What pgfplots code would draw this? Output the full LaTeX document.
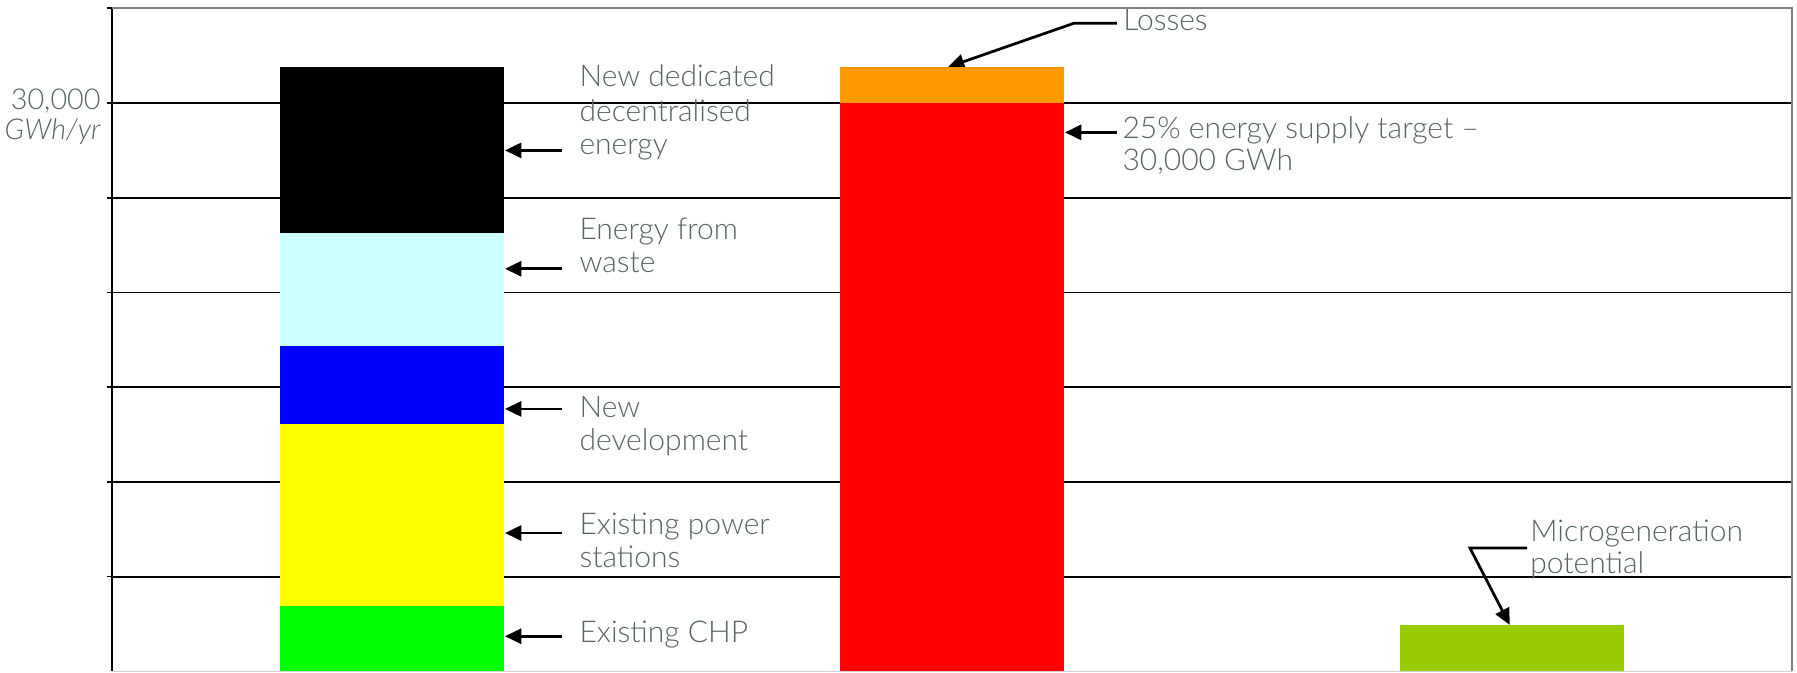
\documentclass[border=0pt]{standalone}
\usepackage{fontspec}
\IfFontExistsTF{Lato Light}{\setmainfont{Lato Light}}{\setmainfont{Lato}}
\usepackage{pgfplots}
\pgfplotsset{compat=1.18}
\usetikzlibrary{arrows.meta}

\definecolor{txt}{RGB}{86,102,92}
\definecolor{chp}{RGB}{0,255,0}
\definecolor{power}{RGB}{255,255,0}
\definecolor{newdev}{RGB}{0,0,255}
\definecolor{waste}{RGB}{204,255,255}
\definecolor{dedicated}{RGB}{0,0,0}
\definecolor{target}{RGB}{255,0,0}
\definecolor{losses}{RGB}{255,153,0}
\definecolor{micro}{RGB}{153,204,0}

\newcommand{\lblfont}{\fontsize{12}{14}\selectfont}
\newcommand{\axfont}{\fontsize{11.5}{13}\selectfont}

\begin{document}
\begin{tikzpicture}[
  lbl/.style={font=\lblfont, text=txt, inner sep=0pt, anchor=mid west},
  arr/.style={black, line width=1.1pt, -{Triangle[length=6.5pt,width=6pt]}}
]
\begin{axis}[
  scale only axis,
  width=672pt, height=265.2pt,
  xmin=0.5, xmax=3.5,
  ymin=0, ymax=35000,
  ybar stacked,
  bar width=89.6pt,
  separate axis lines,
  axis x line*=bottom,
  axis y line*=left,
  x axis line style={gray!35, line width=0.5pt},
  y axis line style={black, line width=0.7pt},
  xtick=\empty,
  ytick={5000,10000,...,35000},
  yticklabels=\empty,
  scaled y ticks=false,
  tick align=outside,
  major tick length=2.2pt,
  every tick/.style={black, line width=0.7pt},
  ymajorgrids,
  major grid style={black, line width=0.75pt},
  clip=false,
]
% Left column: decentralised supply build-up
\addplot[fill=chp, draw=none] coordinates {(1,3450) (2,0) (3,0)};
\addplot[fill=power, draw=none] coordinates {(1,9630) (2,0) (3,0)};
\addplot[fill=newdev, draw=none] coordinates {(1,4120) (2,0) (3,0)};
\addplot[fill=waste, draw=none] coordinates {(1,5960) (2,0) (3,0)};
\addplot[fill=dedicated, draw=none] coordinates {(1,8740) (2,0) (3,0)};
% Middle column: target plus losses
\addplot[fill=target, draw=none] coordinates {(1,0) (2,30000) (3,0)};
\addplot[fill=losses, draw=none] coordinates {(1,0) (2,1900) (3,0)};
% Right column: microgeneration
\addplot[fill=micro, draw=none] coordinates {(1,0) (2,0) (3,2450)};

% frame: top and right edges
\draw[gray, line width=0.9pt] (rel axis cs:0,1) -- (rel axis cs:1,1) -- (rel axis cs:1,0);
% overall extent of the figure
\path (rel axis cs:-0.0667,-0.0015) rectangle (rel axis cs:1.003,1.0106);

% y-axis label
\node[font=\axfont, text=txt, inner sep=0pt, anchor=mid east] at ([xshift=-4.4pt]axis cs:0.5,30000) {30,000};
\node[font=\axfont\itshape, text=txt, inner sep=0pt, anchor=mid east] at ([xshift=-4.4pt]axis cs:0.5,28400) {GWh/yr};

% labels for the left column
\draw[arr] (axis cs:1.3036,27500) -- (axis cs:1.2018,27500);
\draw[arr] (axis cs:1.3036,21250) -- (axis cs:1.2018,21250);
\draw[arr] (axis cs:1.3036,13850) -- (axis cs:1.2018,13850);
\draw[arr] (axis cs:1.3036,7300) -- (axis cs:1.2018,7300);
\draw[arr] (axis cs:1.3036,1851) -- (axis cs:1.2018,1851);
\node[lbl] at (axis cs:1.334,31200) {New dedicated};
\node[lbl] at (axis cs:1.334,29350) {decentralised};
\node[lbl] at (axis cs:1.334,27605) {energy};
\node[lbl] at (axis cs:1.334,23110) {Energy from};
\node[lbl] at (axis cs:1.334,21365) {waste};
\node[lbl] at (axis cs:1.334,13749) {New};
\node[lbl] at (axis cs:1.334,12004) {development};
\node[lbl] at (axis cs:1.334,7562) {Existing power};
\node[lbl] at (axis cs:1.334,5817) {stations};
\node[lbl] at (axis cs:1.334,1851) {Existing CHP};

% labels for the middle column
\draw[arr] (axis cs:2.2946,28451) -- (axis cs:2.2018,28451);
\node[lbl] at (axis cs:2.3036,28451) {25\% energy supply target --};
\node[lbl] at (axis cs:2.3036,26758) {30,000 GWh};
\draw[arr] (axis cs:2.2946,34215) -- (axis cs:2.218,34215) -- (axis cs:1.993,31900);
\node[lbl] at (axis cs:2.305,34162) {Losses};

% label for the right column
\draw[arr] (axis cs:3.027,6504) -- (axis cs:2.925,6504) -- (axis cs:2.996,2450);
\node[lbl] at (axis cs:3.032,7192) {Microgeneration};
\node[lbl] at (axis cs:3.032,5500) {potential};
\end{axis}
\end{tikzpicture}
\end{document}
